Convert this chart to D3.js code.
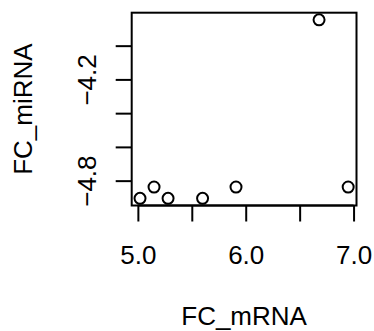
<!DOCTYPE html>
<html>
<head>
<meta charset="utf-8">
<script src="https://cdn.jsdelivr.net/npm/d3@7"></script>
<style>
  html, body { margin: 0; padding: 0; background: #fff; }
  svg { display: block; font-family: "Liberation Sans", Arial, sans-serif; }
</style>
</head>
<body>
<div id="chart"></div>
<script>
// scatter of FC_mRNA vs FC_miRNA, R base-graphics look
const fcMrna = [5.02, 5.15, 5.28, 5.60, 5.91, 6.68, 6.95];
const fcMirna = [-4.905, -4.838, -4.905, -4.905, -4.838, -3.847, -4.838];

const xTicks = [5.0, 5.5, 6.0, 6.5, 7.0];
const xTickLabels = ['5.0', '', '6.0', '', '7.0'];   // R drops the overlapping ones
const yTicks = [-4.8, -4.6, -4.4, -4.2, -4.0];
const yTickLabels = ['\u22124.8', '', '', '\u22124.2', ''];

const width = 374, height = 331;
const box = { left: 131.7, right: 356.5, top: 12.7, bottom: 205.5 };
const fontSize = 26;

// R pads the data range by 4% on each side
const pad = (ext) => { const d = (ext[1] - ext[0]) * 0.04; return [ext[0] - d, ext[1] + d]; };

const x = d3.scaleLinear().domain(pad(d3.extent(fcMrna))).range([box.left, box.right]);
const y = d3.scaleLinear().domain(pad(d3.extent(fcMirna))).range([box.bottom, box.top]);

const svg = d3.select('#chart').append('svg')
  .attr('width', width).attr('height', height);

// x axis
const xAxis = svg.append('g')
  .attr('transform', `translate(0,${box.bottom})`)
  .call(d3.axisBottom(x).tickValues(xTicks).tickSize(16).tickPadding(24)
    .tickFormat((d, i) => xTickLabels[i]));
xAxis.select('.domain').remove();
xAxis.selectAll('line').attr('stroke', '#000').attr('stroke-width', 2);
xAxis.selectAll('text').attr('fill', '#000').style('font-size', fontSize + 'px')
  .attr('font-family', null);

// y axis, labels rotated like las=0
const yAxis = svg.append('g')
  .attr('transform', `translate(${box.left},0)`)
  .call(d3.axisLeft(y).tickValues(yTicks).tickSize(16).tickFormat((d, i) => yTickLabels[i]));
yAxis.select('.domain').remove();
yAxis.selectAll('line').attr('stroke', '#000').attr('stroke-width', 2);
yAxis.selectAll('.tick text')
  .attr('x', null).attr('dy', null)
  .attr('text-anchor', 'middle')
  .attr('transform', 'translate(-45,0) rotate(-90)')
  .attr('dy', '0.35em')
  .attr('fill', '#000').style('font-size', fontSize + 'px')
  .attr('font-family', null);

// first/last tick axis line (sits on the box edge)
svg.append('line')
  .attr('x1', x(xTicks[0])).attr('x2', x(xTicks[xTicks.length - 1]))
  .attr('y1', box.bottom).attr('y2', box.bottom)
  .attr('stroke', '#000').attr('stroke-width', 2);

// plot box
svg.append('rect')
  .attr('x', box.left).attr('y', box.top)
  .attr('width', box.right - box.left).attr('height', box.bottom - box.top)
  .attr('fill', 'none').attr('stroke', '#000').attr('stroke-width', 2);

// points
svg.append('g').selectAll('circle')
  .data(fcMrna.map((v, i) => [v, fcMirna[i]]))
  .join('circle')
  .attr('cx', (d) => x(d[0]))
  .attr('cy', (d) => y(d[1]))
  .attr('r', 5.5)
  .attr('fill', 'none')
  .attr('stroke', '#000')
  .attr('stroke-width', 2);

// axis titles
svg.append('text')
  .attr('x', (box.left + box.right) / 2).attr('y', 325)
  .attr('text-anchor', 'middle').style('font-size', fontSize + 'px')
  .text('FC_mRNA');

svg.append('text')
  .attr('transform', `translate(32,${(box.top + box.bottom) / 2}) rotate(-90)`)
  .attr('text-anchor', 'middle').style('font-size', fontSize + 'px')
  .text('FC_miRNA');
</script>
</body>
</html>
